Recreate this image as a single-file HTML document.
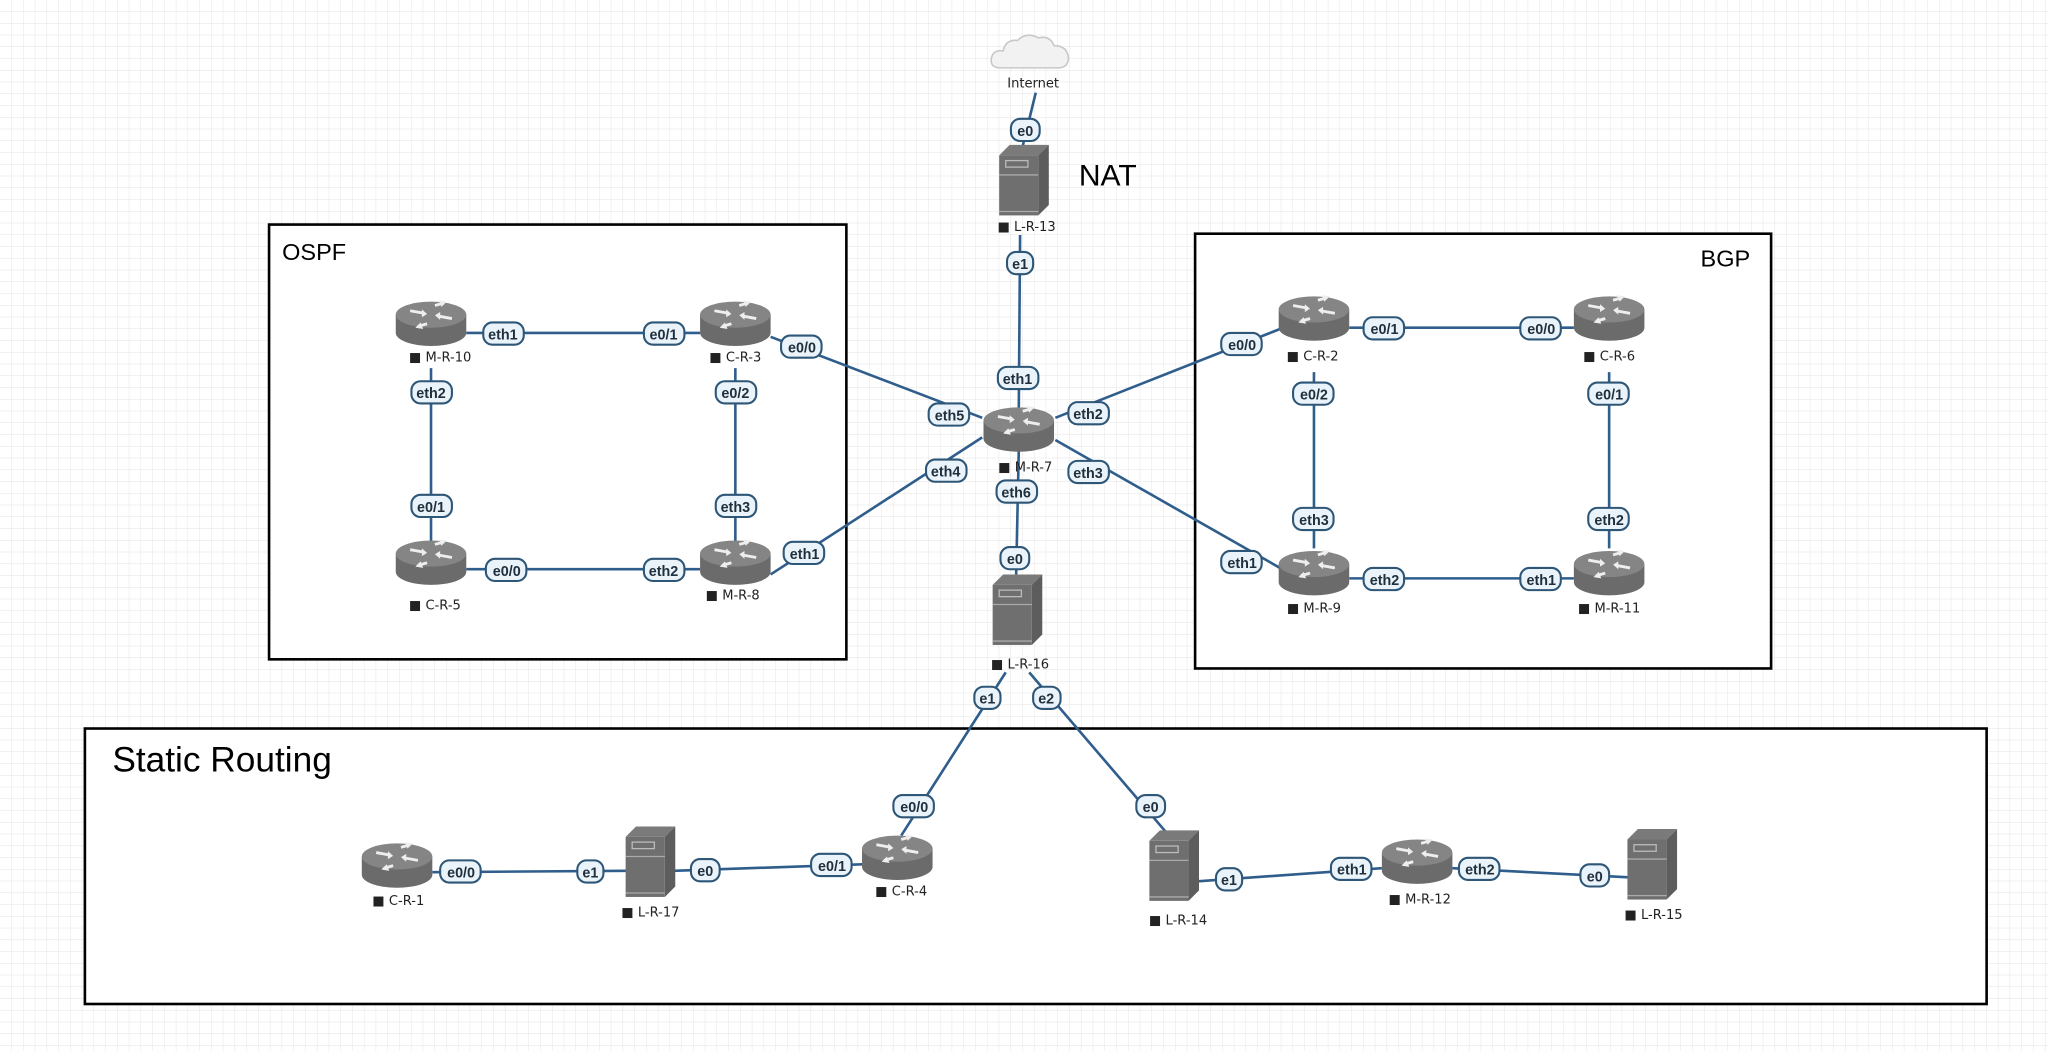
<!DOCTYPE html>
<html><head><meta charset="utf-8"><style>
html,body{margin:0;padding:0;background:#fff;}
svg{display:block;}
.lk{stroke:#2f5e8c;stroke-width:2;fill:none;}
.pl rect{fill:#eaf3fa;stroke:#2e5677;stroke-width:1.6;}
.pl text{font:bold 11px "Liberation Sans",sans-serif;fill:#1f2f3d;text-anchor:middle;}
.nm{font:10px "DejaVu Sans","Liberation Sans",sans-serif;fill:#222;text-anchor:middle;}
</style></head><body>
<svg width="2048" height="1051" viewBox="0 0 1568 805" preserveAspectRatio="none" xmlns="http://www.w3.org/2000/svg">
<defs>
<pattern id="g" width="9" height="9" patternUnits="userSpaceOnUse"><path d="M9 0V9H0" fill="none" stroke="#e3e3e3" stroke-width="0.7"/></pattern>
<g id="rt">
<path d="M-27,-6 L-27,8 A27,10 0 0 0 27,8 L27,-6 Z" fill="#6b6b6b"/>
<ellipse cx="0" cy="-6" rx="27" ry="10" fill="#858585"/>
<g stroke="#eee" stroke-width="2.2" fill="none">
<path d="M-16,-9 L-5,-7"/><path d="M16,-3 L5,-5"/><path d="M3,-13 L10,-15"/><path d="M-3,1 L-10,3"/>
</g>
<g fill="#eee"><path d="M-3,-6.5 L-7,-10 L-7,-4 Z"/><path d="M3,-5.5 L7,-2 L7,-8 Z"/><path d="M12,-16 L6,-17 L8,-12 Z"/><path d="M-12,4 L-6,5 L-8,0 Z"/></g>
</g>
<g id="sv">
<path d="M-19,-19 L-11,-27 L19,-27 L11,-19 Z" fill="#7a7a7a"/>
<path d="M11,-19 L19,-27 L19,19 L11,27 Z" fill="#5d5d5d"/>
<rect x="-19" y="-19" width="30" height="46" fill="#6f6f6f"/>
<line x1="-19" y1="-4" x2="11" y2="-4" stroke="#aaa" stroke-width="1"/>
<line x1="-19" y1="24" x2="11" y2="24" stroke="#aaa" stroke-width="1"/>
<rect x="-14" y="-15" width="17" height="5" fill="none" stroke="#bbb" stroke-width="1"/>
</g>
</defs>
<rect width="1568" height="805" fill="#fff"/>
<rect width="1568" height="805" fill="url(#g)"/>

<rect x="206" y="172" width="442" height="333" fill="#fff" stroke="#000" stroke-width="2"/>
<text x="216" y="199" font-family="Liberation Sans,sans-serif" font-size="18">OSPF</text>
<rect x="915" y="179" width="441" height="333" fill="#fff" stroke="#000" stroke-width="2"/>
<text x="1340" y="204" font-family="Liberation Sans,sans-serif" font-size="18" text-anchor="end">BGP</text>
<rect x="65" y="558" width="1456" height="211" fill="#fff" stroke="#000" stroke-width="2"/>
<text x="86" y="591" font-family="Liberation Sans,sans-serif" font-size="27">Static Routing</text>
<text x="826" y="142" font-family="Liberation Sans,sans-serif" font-size="23">NAT</text>

<g class="lk">
<path d="M793,71 L783,112"/>
<path d="M781,180 L780,315"/>
<path d="M357,255 L536,255"/>
<path d="M330,282 L330,415"/>
<path d="M563,282 L563,415"/>
<path d="M357,436 L536,436"/>
<path d="M590,258 L752,320"/>
<path d="M590,440 L752,335"/>
<path d="M808,320 L980,252"/>
<path d="M808,337 L980,435"/>
<path d="M780,345 L778,440"/>
<path d="M1033,251 L1205,251"/>
<path d="M1006,285 L1006,420"/>
<path d="M1232,285 L1232,420"/>
<path d="M1033,443 L1205,443"/>
<path d="M770,515 L690,640"/>
<path d="M788,515 L895,640"/>
<path d="M331,668 L480,667"/>
<path d="M516,667 L660,662"/>
<path d="M917,675 L1058,665"/>
<path d="M1112,665 L1247,672"/>
</g>

<g>
<path d="M766,52 Q758,52 759,45 Q760,38 768,39 Q770,30 779,31 Q786,24 795,29 Q804,27 807,35 Q817,35 818,44 Q818,52 810,52 Z" fill="#f2f2f2" stroke="#c8c8c8" stroke-width="1.2"/>
<text x="791" y="67" class="nm">Internet</text>
</g>

<use href="#rt" x="330" y="247"/>
<use href="#rt" x="563" y="247"/>
<use href="#rt" x="330" y="430"/>
<use href="#rt" x="563" y="430"/>
<use href="#rt" x="780" y="328"/>
<use href="#rt" x="1006" y="243"/>
<use href="#rt" x="1232" y="243"/>
<use href="#rt" x="1006" y="438"/>
<use href="#rt" x="1232" y="438"/>
<use href="#rt" x="304" y="662"/>
<use href="#rt" x="687" y="656"/>
<use href="#rt" x="1085" y="659"/>
<use href="#sv" x="784" y="138"/>
<use href="#sv" x="779" y="467"/>
<use href="#sv" x="498" y="660"/>
<use href="#sv" x="899" y="663"/>
<use href="#sv" x="1265" y="662"/>

<g class="nm">
<text x="337" y="277">■ M-R-10</text>
<text x="563" y="277">■ C-R-3</text>
<text x="333" y="467">■ C-R-5</text>
<text x="561" y="459">■ M-R-8</text>
<text x="785" y="361">■ M-R-7</text>
<text x="786" y="177">■ L-R-13</text>
<text x="781" y="512">■ L-R-16</text>
<text x="1005" y="276">■ C-R-2</text>
<text x="1232" y="276">■ C-R-6</text>
<text x="1006" y="469">■ M-R-9</text>
<text x="1232" y="469">■ M-R-11</text>
<text x="305" y="693">■ C-R-1</text>
<text x="498" y="702">■ L-R-17</text>
<text x="690" y="686">■ C-R-4</text>
<text x="902" y="708">■ L-R-14</text>
<text x="1087" y="692">■ M-R-12</text>
<text x="1266" y="704">■ L-R-15</text>
</g>

<g class="pl">
<rect x="774" y="91" width="22" height="17" rx="7"/><text x="785" y="104">e0</text>
<rect x="771" y="193" width="20" height="17" rx="7"/><text x="781" y="206">e1</text>
<rect x="764" y="281" width="31" height="17" rx="7"/><text x="779" y="294">eth1</text>
<rect x="370" y="247" width="31" height="17" rx="7"/><text x="385" y="260">eth1</text>
<rect x="493" y="247" width="31" height="17" rx="7"/><text x="508" y="260">e0/1</text>
<rect x="315" y="292" width="31" height="17" rx="7"/><text x="330" y="305">eth2</text>
<rect x="315" y="379" width="31" height="17" rx="7"/><text x="330" y="392">e0/1</text>
<rect x="548" y="292" width="31" height="17" rx="7"/><text x="563" y="305">e0/2</text>
<rect x="548" y="379" width="31" height="17" rx="7"/><text x="563" y="392">eth3</text>
<rect x="372" y="428" width="31" height="17" rx="7"/><text x="388" y="441">e0/0</text>
<rect x="493" y="428" width="31" height="17" rx="7"/><text x="508" y="441">eth2</text>
<rect x="598" y="257" width="31" height="17" rx="7"/><text x="614" y="270">e0/0</text>
<rect x="711" y="309" width="31" height="17" rx="7"/><text x="727" y="322">eth5</text>
<rect x="600" y="415" width="31" height="17" rx="7"/><text x="616" y="428">eth1</text>
<rect x="709" y="352" width="31" height="17" rx="7"/><text x="724" y="365">eth4</text>
<rect x="818" y="308" width="31" height="17" rx="7"/><text x="833" y="321">eth2</text>
<rect x="935" y="255" width="31" height="17" rx="7"/><text x="951" y="268">e0/0</text>
<rect x="818" y="353" width="31" height="17" rx="7"/><text x="833" y="366">eth3</text>
<rect x="935" y="422" width="31" height="17" rx="7"/><text x="951" y="435">eth1</text>
<rect x="763" y="368" width="31" height="17" rx="7"/><text x="778" y="381">eth6</text>
<rect x="766" y="419" width="22" height="17" rx="7"/><text x="777" y="432">e0</text>
<rect x="1044" y="243" width="31" height="17" rx="7"/><text x="1060" y="256">e0/1</text>
<rect x="1164" y="243" width="31" height="17" rx="7"/><text x="1180" y="256">e0/0</text>
<rect x="990" y="293" width="31" height="17" rx="7"/><text x="1006" y="306">e0/2</text>
<rect x="990" y="389" width="31" height="17" rx="7"/><text x="1006" y="402">eth3</text>
<rect x="1216" y="293" width="31" height="17" rx="7"/><text x="1232" y="306">e0/1</text>
<rect x="1216" y="389" width="31" height="17" rx="7"/><text x="1232" y="402">eth2</text>
<rect x="1044" y="435" width="31" height="17" rx="7"/><text x="1060" y="448">eth2</text>
<rect x="1164" y="435" width="31" height="17" rx="7"/><text x="1180" y="448">eth1</text>
<rect x="746" y="526" width="20" height="17" rx="7"/><text x="756" y="539">e1</text>
<rect x="791" y="526" width="21" height="17" rx="7"/><text x="801" y="539">e2</text>
<rect x="684" y="609" width="31" height="17" rx="7"/><text x="700" y="622">e0/0</text>
<rect x="870" y="609" width="22" height="17" rx="7"/><text x="881" y="622">e0</text>
<rect x="337" y="659" width="31" height="17" rx="7"/><text x="353" y="672">e0/0</text>
<rect x="442" y="659" width="20" height="17" rx="7"/><text x="452" y="672">e1</text>
<rect x="529" y="658" width="22" height="17" rx="7"/><text x="540" y="671">e0</text>
<rect x="621" y="654" width="31" height="17" rx="7"/><text x="637" y="667">e0/1</text>
<rect x="931" y="665" width="20" height="17" rx="7"/><text x="941" y="678">e1</text>
<rect x="1019" y="657" width="31" height="17" rx="7"/><text x="1035" y="670">eth1</text>
<rect x="1117" y="657" width="31" height="17" rx="7"/><text x="1133" y="670">eth2</text>
<rect x="1210" y="662" width="22" height="17" rx="7"/><text x="1221" y="675">e0</text>
</g>
</svg>
</body></html>
